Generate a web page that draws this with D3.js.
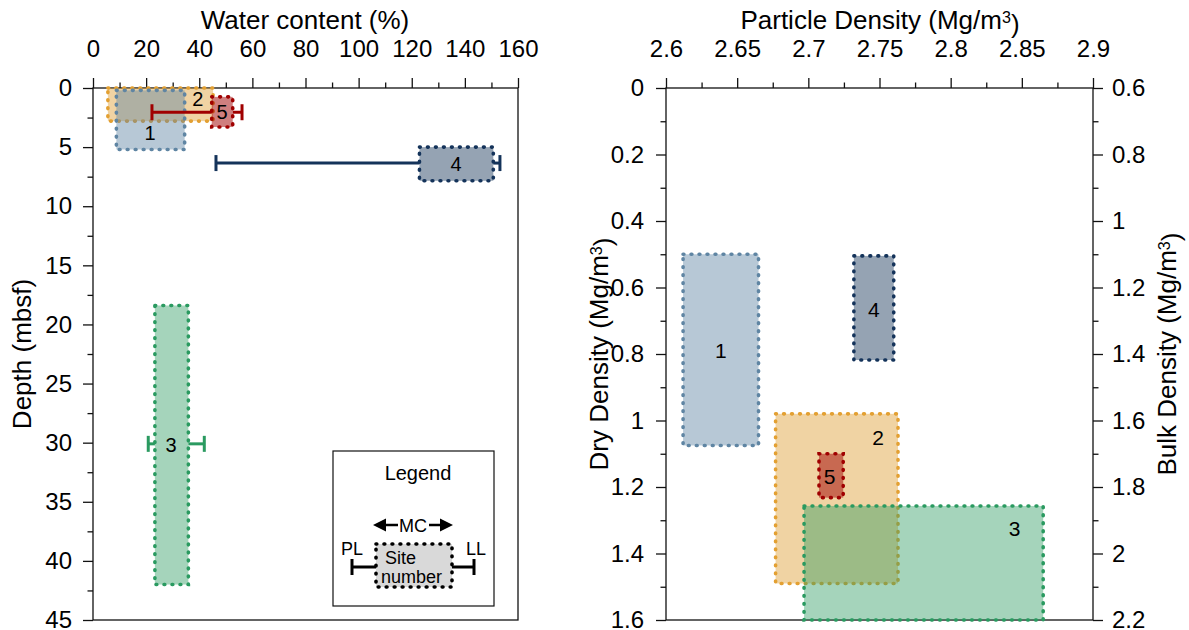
<!DOCTYPE html>
<html>
<head>
<meta charset="utf-8">
<script src="https://cdn.jsdelivr.net/npm/d3@7"></script>
<style>
  body { margin: 0; background: #fff; }
  svg { font-family: "Liberation Sans", Arial, sans-serif; }
</style>
</head>
<body>
<div id="chart"></div>
<script>
// sites
const sites = ["1", "2", "3", "4", "5"];

// left panel: water content (%) vs depth (mbsf)
const mcLow = [8.8, 5.6, 23.3, 122.9, 44.7];
const mcHigh = [34.5, 45.2, 35.9, 150.7, 52.6];
const depthTop = [0.2, 0, 18.4, 5.0, 0.75];
const depthBottom = [5.2, 2.8, 42.0, 7.85, 3.3];
const plValues = [null, null, 20.8, 46.3, 22.2];
const llValues = [null, null, 41.9, 153.2, 56.1];
const limitDepth = [null, null, 30.1, 6.35, 2.05];
const wcLabelAt = [21.5, 39.5, 29.4, 136.7, 48.6];
const depthLabelAt = [3.8, 0.95, 30.2, 6.45, 2.05];

// right panel: particle density vs dry density
const pdLow = [2.612, 2.677, 2.697, 2.732, 2.7075];
const pdHigh = [2.665, 2.763, 2.865, 2.760, 2.7245];
const ddTop = [0.5, 0.98, 1.257, 0.505, 1.10];
const ddBottom = [1.075, 1.49, 1.6, 0.818, 1.232];
const pdLabelAt = [2.6385, 2.749, 2.845, 2.746, 2.715];
const ddLabelAt = [0.79, 1.05, 1.325, 0.665, 1.168];

// tick labels
const wcTicks = [0, 20, 40, 60, 80, 100, 120, 140, 160];
const depthTicks = [0, 5, 10, 15, 20, 25, 30, 35, 40, 45];
const pdTicks = [2.6, 2.65, 2.7, 2.75, 2.8, 2.85, 2.9];
const ddTicks = [0, 0.2, 0.4, 0.6, 0.8, 1, 1.2, 1.4, 1.6];
const bdTicks = [0.6, 0.8, 1, 1.2, 1.4, 1.6, 1.8, 2, 2.2];

const strokeColors = ["#5f85a3", "#e3a032", "#2a9a60", "#14335a", "#a00000"];
const fillColors = ["#5f85a3", "#de9d33", "#2e9b62", "#143356", "#a00000"];
const fillOpacity = [0.45, 0.45, 0.43, 0.45, 0.5];

const leftOrder = [1, 0, 4, 3, 2];
const rightOrder = [0, 3, 1, 4, 2];

const W = 1189, H = 630;
const svg = d3.select("#chart").append("svg")
  .attr("width", W).attr("height", H);

const tickFont = 24, titleFont = 26;

// scales
const xWc = d3.scaleLinear().domain([0, 160]).range([93, 518]);
const yDepth = d3.scaleLinear().domain([0, 45]).range([88, 620]);
const xPd = d3.scaleLinear().domain([2.6, 2.9]).range([666, 1093]);
const yDd = d3.scaleLinear().domain([0, 1.6]).range([88, 620]);
const yBd = d3.scaleLinear().domain([0.6, 2.2]).range([88, 620]);

function frame(x, y) {
  svg.append("rect")
    .attr("x", x.range()[0]).attr("y", y.range()[0])
    .attr("width", x.range()[1] - x.range()[0])
    .attr("height", y.range()[1] - y.range()[0])
    .attr("fill", "none").attr("stroke", "#111").attr("stroke-width", 1.3);
}

function styleAxis(g) {
  g.select(".domain").remove();
  g.selectAll(".tick line").attr("stroke", "#111").attr("stroke-width", 1.3);
  g.selectAll("text").attr("fill", "#000")
    .style("font-size", tickFont + "px")
    .style("font-family", "Liberation Sans, Arial, sans-serif");
}

function drawAxis(axisFn, scale, ticks, minorStep, transform, pad) {
  const lo = d3.min(scale.domain()), hi = d3.max(scale.domain());
  const minor = d3.range(lo, hi + 1e-9, minorStep).filter(v => !ticks.some(t => Math.abs(t - v) < 1e-9));
  svg.append("g").attr("transform", transform)
    .call(axisFn(scale).tickValues(minor).tickSize(5.5).tickFormat(""))
    .call(styleAxis);
  svg.append("g").attr("transform", transform)
    .call(axisFn(scale).tickValues(ticks).tickSize(10).tickPadding(pad)
      .tickFormat(d => String(+d.toFixed(3))))
    .call(styleAxis);
}

// ---------- left panel ----------
frame(xWc, yDepth);
drawAxis(d3.axisTop, xWc, wcTicks, 10, "translate(0,88)", 21);
drawAxis(d3.axisLeft, yDepth, depthTicks, 2.5, "translate(93,0)", 11);

function dotted(sel, color) {
  sel.attr("stroke", color).attr("stroke-width", 3.6)
    .attr("stroke-dasharray", "0.8 7.2").attr("stroke-linecap", "round");
}

function errorBar(g, x0, x1, y, color) {
  g.append("line").attr("x1", x0).attr("x2", x1).attr("y1", y).attr("y2", y)
    .attr("stroke", color).attr("stroke-width", 3);
}
function cap(g, x, y, color) {
  g.append("line").attr("x1", x).attr("x2", x).attr("y1", y - 8).attr("y2", y + 8)
    .attr("stroke", color).attr("stroke-width", 3);
}

const left = svg.append("g");
leftOrder.forEach(i => {
  const g = left.append("g");
  if (plValues[i] != null) {
    const y = yDepth(limitDepth[i]);
    errorBar(g, xWc(plValues[i]), xWc(mcLow[i]), y, strokeColors[i]);
    errorBar(g, xWc(mcHigh[i]), xWc(llValues[i]), y, strokeColors[i]);
    cap(g, xWc(plValues[i]), y, strokeColors[i]);
    cap(g, xWc(llValues[i]), y, strokeColors[i]);
  }
  g.append("rect")
    .attr("x", xWc(mcLow[i])).attr("y", yDepth(depthTop[i]))
    .attr("width", xWc(mcHigh[i]) - xWc(mcLow[i]))
    .attr("height", yDepth(depthBottom[i]) - yDepth(depthTop[i]))
    .attr("fill", fillColors[i]).attr("fill-opacity", fillOpacity[i])
    .call(dotted, strokeColors[i]);
});
leftOrder.forEach(i => {
  left.append("text")
    .attr("x", xWc(wcLabelAt[i])).attr("y", yDepth(depthLabelAt[i]))
    .attr("text-anchor", "middle").attr("dy", "0.36em")
    .style("font-size", "20px").text(sites[i]);
});

// legend
const lg = svg.append("g");
lg.append("rect").attr("x", 333).attr("y", 451).attr("width", 161).attr("height", 155)
  .attr("fill", "#fff").attr("stroke", "#111").attr("stroke-width", 1.2);
lg.append("text").attr("x", 418).attr("y", 480).attr("text-anchor", "middle")
  .style("font-size", "20px").text("Legend");
lg.append("text").attr("x", 413).attr("y", 532).attr("text-anchor", "middle")
  .style("font-size", "18px").text("MC");
lg.append("line").attr("x1", 382).attr("x2", 398).attr("y1", 525).attr("y2", 525)
  .attr("stroke", "#000").attr("stroke-width", 2.5);
lg.append("line").attr("x1", 429).attr("x2", 444).attr("y1", 525).attr("y2", 525)
  .attr("stroke", "#000").attr("stroke-width", 2.5);
lg.append("path").attr("d", "M373,525 L386,518.5 L386,531.5 Z").attr("fill", "#000");
lg.append("path").attr("d", "M453,525 L440,518.5 L440,531.5 Z").attr("fill", "#000");
lg.append("rect").attr("x", 376).attr("y", 544).attr("width", 76).attr("height", 43)
  .attr("fill", "#d9d9d9").call(dotted, "#000");
lg.append("text").attr("x", 385).attr("y", 564).style("font-size", "18px").text("Site");
lg.append("text").attr("x", 381).attr("y", 583).style("font-size", "18px").text("number");
lg.append("text").attr("x", 352).attr("y", 555).attr("text-anchor", "middle")
  .style("font-size", "18px").text("PL");
lg.append("text").attr("x", 476).attr("y", 555).attr("text-anchor", "middle")
  .style("font-size", "18px").text("LL");
errorBar(lg, 352, 376, 567, "#000");
errorBar(lg, 452, 474, 567, "#000");
cap(lg, 352, 567, "#000");
cap(lg, 474, 567, "#000");

// ---------- right panel ----------
frame(xPd, yDd);
drawAxis(d3.axisTop, xPd, pdTicks, 0.025, "translate(0,88)", 21);
drawAxis(d3.axisLeft, yDd, ddTicks, 0.1, "translate(666,0)", 12);
drawAxis(d3.axisRight, yBd, bdTicks, 0.1, "translate(1093,0)", 9);

const right = svg.append("g");
rightOrder.forEach(i => {
  right.append("rect")
    .attr("x", xPd(pdLow[i])).attr("y", yDd(ddTop[i]))
    .attr("width", xPd(pdHigh[i]) - xPd(pdLow[i]))
    .attr("height", yDd(ddBottom[i]) - yDd(ddTop[i]))
    .attr("fill", fillColors[i]).attr("fill-opacity", fillOpacity[i])
    .call(dotted, strokeColors[i]);
});
rightOrder.forEach(i => {
  right.append("text")
    .attr("x", xPd(pdLabelAt[i])).attr("y", yDd(ddLabelAt[i]))
    .attr("text-anchor", "middle").attr("dy", "0.36em")
    .style("font-size", "21px").text(sites[i]);
});

// axis titles
function mgTitle(sel, label) {
  sel.append("tspan").text(label + " (Mg/m");
  sel.append("tspan").attr("dy", "-0.4em").style("font-size", "0.62em").text("3");
  sel.append("tspan").attr("dy", "0.4em").text(")");
}
svg.append("text").attr("x", 305).attr("y", 29).attr("text-anchor", "middle")
  .style("font-size", titleFont + "px").text("Water content (%)");
svg.append("text").attr("transform", "translate(31,354) rotate(-90)")
  .attr("text-anchor", "middle").style("font-size", titleFont + "px").text("Depth (mbsf)");
svg.append("text").attr("x", 880).attr("y", 29).attr("text-anchor", "middle")
  .style("font-size", titleFont + "px").call(mgTitle, "Particle Density");
svg.append("text").attr("transform", "translate(608,354) rotate(-90)")
  .attr("text-anchor", "middle").style("font-size", titleFont + "px").call(mgTitle, "Dry Density");
svg.append("text").attr("transform", "translate(1176,354) rotate(-90)")
  .attr("text-anchor", "middle").style("font-size", titleFont + "px").call(mgTitle, "Bulk Density");
</script>
</body>
</html>
